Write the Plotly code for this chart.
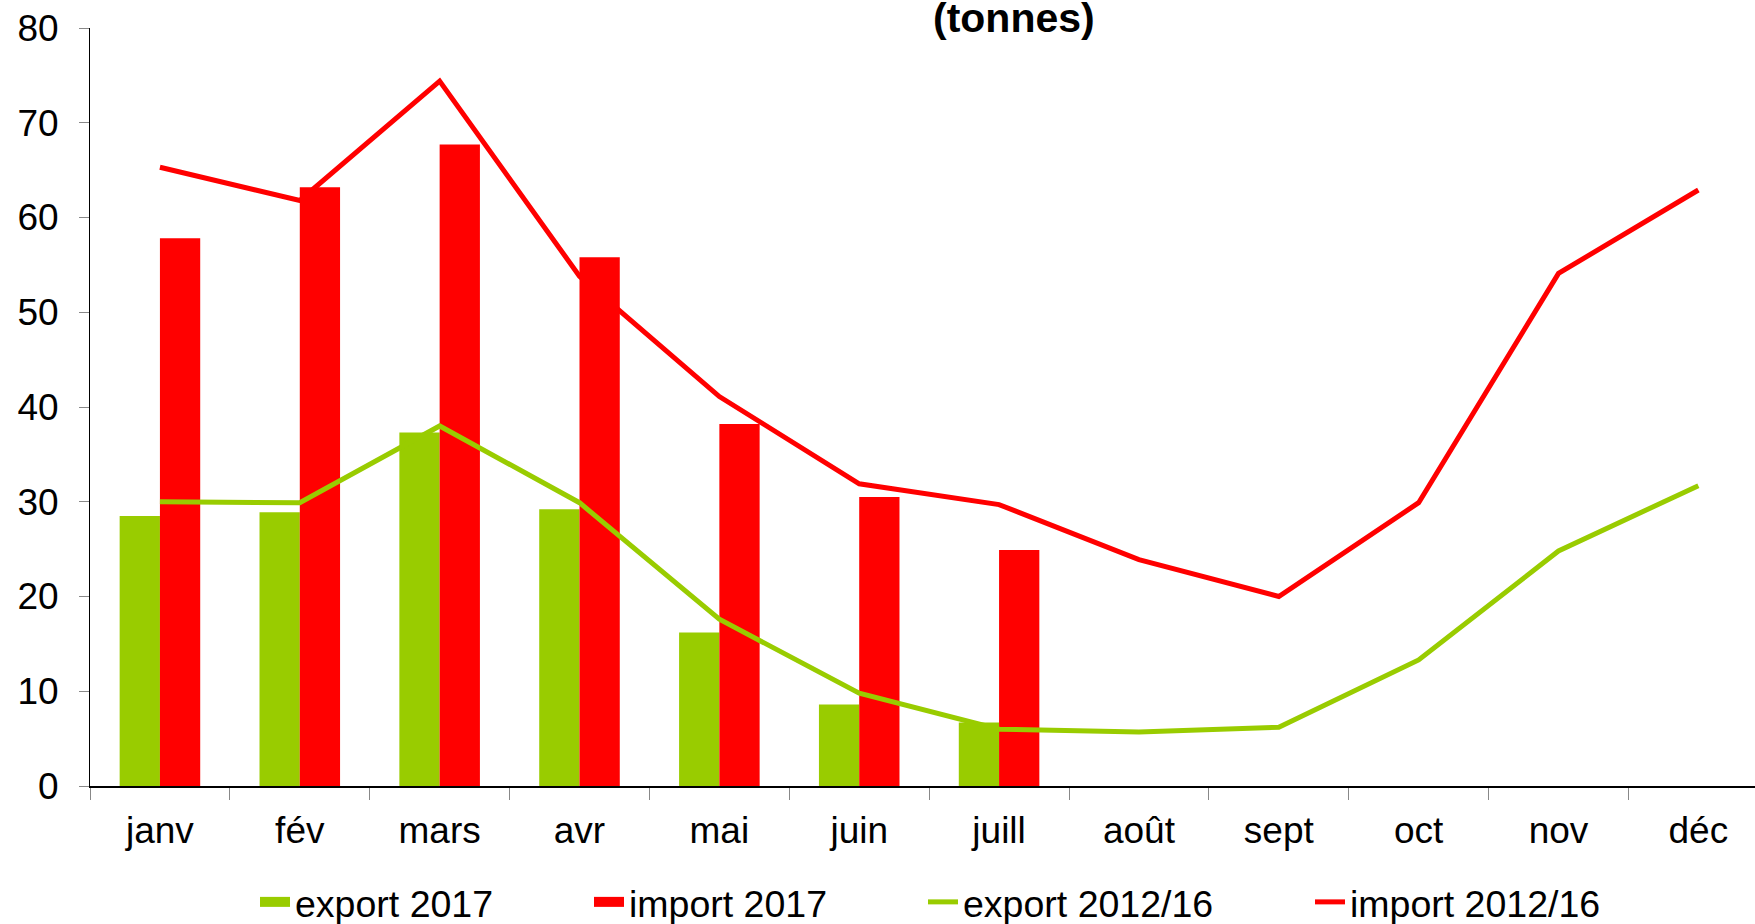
import plotly.graph_objects as go

months = ["janv", "fév", "mars", "avr", "mai", "juin", "juill", "août", "sept", "oct", "nov", "déc"]
export_2017 = [28.5, 28.9, 37.3, 29.2, 16.2, 8.6, 6.7]
import_2017 = [57.8, 63.2, 67.7, 55.8, 38.2, 30.5, 24.9]
export_1216 = [30.0, 29.9, 38.0, 29.9, 17.6, 9.8, 6.0, 5.7, 6.2, 13.3, 24.8, 31.7]
import_1216 = [65.3, 61.8, 74.4, 53.8, 41.1, 31.9, 29.7, 23.9, 20.0, 29.9, 54.1, 62.9]
y_ticks = [0, 10, 20, 30, 40, 50, 60, 70, 80]

GREEN = "#99CC00"
RED = "#FF0000"
FONT = "Liberation Sans, Arial, sans-serif"

fig = go.Figure()
fig.add_trace(go.Bar(x=months[:len(export_2017)], y=export_2017, name="export 2017",
                     marker=dict(color=GREEN, line=dict(width=0)),
                     legendgroup="e17", showlegend=False))
fig.add_trace(go.Bar(x=months[:len(import_2017)], y=import_2017, name="import 2017",
                     marker=dict(color=RED, line=dict(width=0)),
                     legendgroup="i17", showlegend=False))
# legend swatches for the bar series (wide rectangles as in the original)
fig.add_trace(go.Scatter(x=[None], y=[None], name="export 2017", mode="lines",
                         line=dict(color=GREEN, width=20), legendgroup="e17", legend="legend"))
fig.add_trace(go.Scatter(x=[None], y=[None], name="import 2017", mode="lines",
                         line=dict(color=RED, width=20), legendgroup="i17", legend="legend2"))
fig.add_trace(go.Scatter(x=months, y=export_1216, name="export 2012/16", mode="lines",
                         line=dict(color=GREEN, width=5), legend="legend3"))
fig.add_trace(go.Scatter(x=months, y=import_1216, name="import 2012/16", mode="lines",
                         line=dict(color=RED, width=5), legend="legend4"))

W, H = 1755, 924
L, R, T, B = 90, 0, 28, 138
pw, ph = W - L - R, H - T - B

def px_x(x):
    return (x - L) / pw

def px_y(y):
    return (H - B - y) / ph

leg_common = dict(orientation="h", yanchor="middle", xanchor="left",
                  font=dict(family=FONT, size=37.5, color="#000000"),
                  bgcolor="rgba(0,0,0,0)", borderwidth=0)

fig.update_layout(
    width=W, height=H,
    margin=dict(l=L, r=R, t=T, b=B, autoexpand=False),
    plot_bgcolor="white", paper_bgcolor="white",
    showlegend=True,
    barmode="group", bargap=0.424, bargroupgap=0,
    font=dict(family=FONT, size=37, color="#000000"),
    legend=dict(x=px_x(255), y=px_y(902), **leg_common),
    legend2=dict(x=px_x(589), y=px_y(902), **leg_common),
    legend3=dict(x=px_x(923), y=px_y(902), **leg_common),
    legend4=dict(x=px_x(1310), y=px_y(902), **leg_common),
    xaxis=dict(
        type="category", categoryorder="array", categoryarray=months,
        range=[-0.5, 11.405], automargin=False,
        showline=True, linecolor="#000000", linewidth=2,
        ticks="outside", tickson="boundaries", ticklen=12, tickcolor="#888888", tickwidth=1,
        tickfont=dict(family=FONT, size=37, color="#000000"),
        ticklabelstandoff=11,
        showgrid=False, zeroline=False,
    ),
    yaxis=dict(
        range=[0, 80], tickvals=y_ticks, automargin=False,
        showline=True, linecolor="#000000", linewidth=1,
        ticks="outside", ticklen=10, tickcolor="#888888", tickwidth=1,
        tickfont=dict(family=FONT, size=37, color="#000000"),
        ticklabelstandoff=13,
        showgrid=False, zeroline=False,
    ),
    annotations=[dict(
        text="<b>(tonnes)</b>", xref="paper", yref="paper",
        x=px_x(1014), y=px_y(18), xanchor="center", yanchor="middle",
        showarrow=False, font=dict(family=FONT, size=41, color="#000000"),
    )],
)

fig.write_html("out.html", config={"displayModeBar": False},
               post_script="document.body.style.margin='0px';document.body.style.overflow='hidden';")
